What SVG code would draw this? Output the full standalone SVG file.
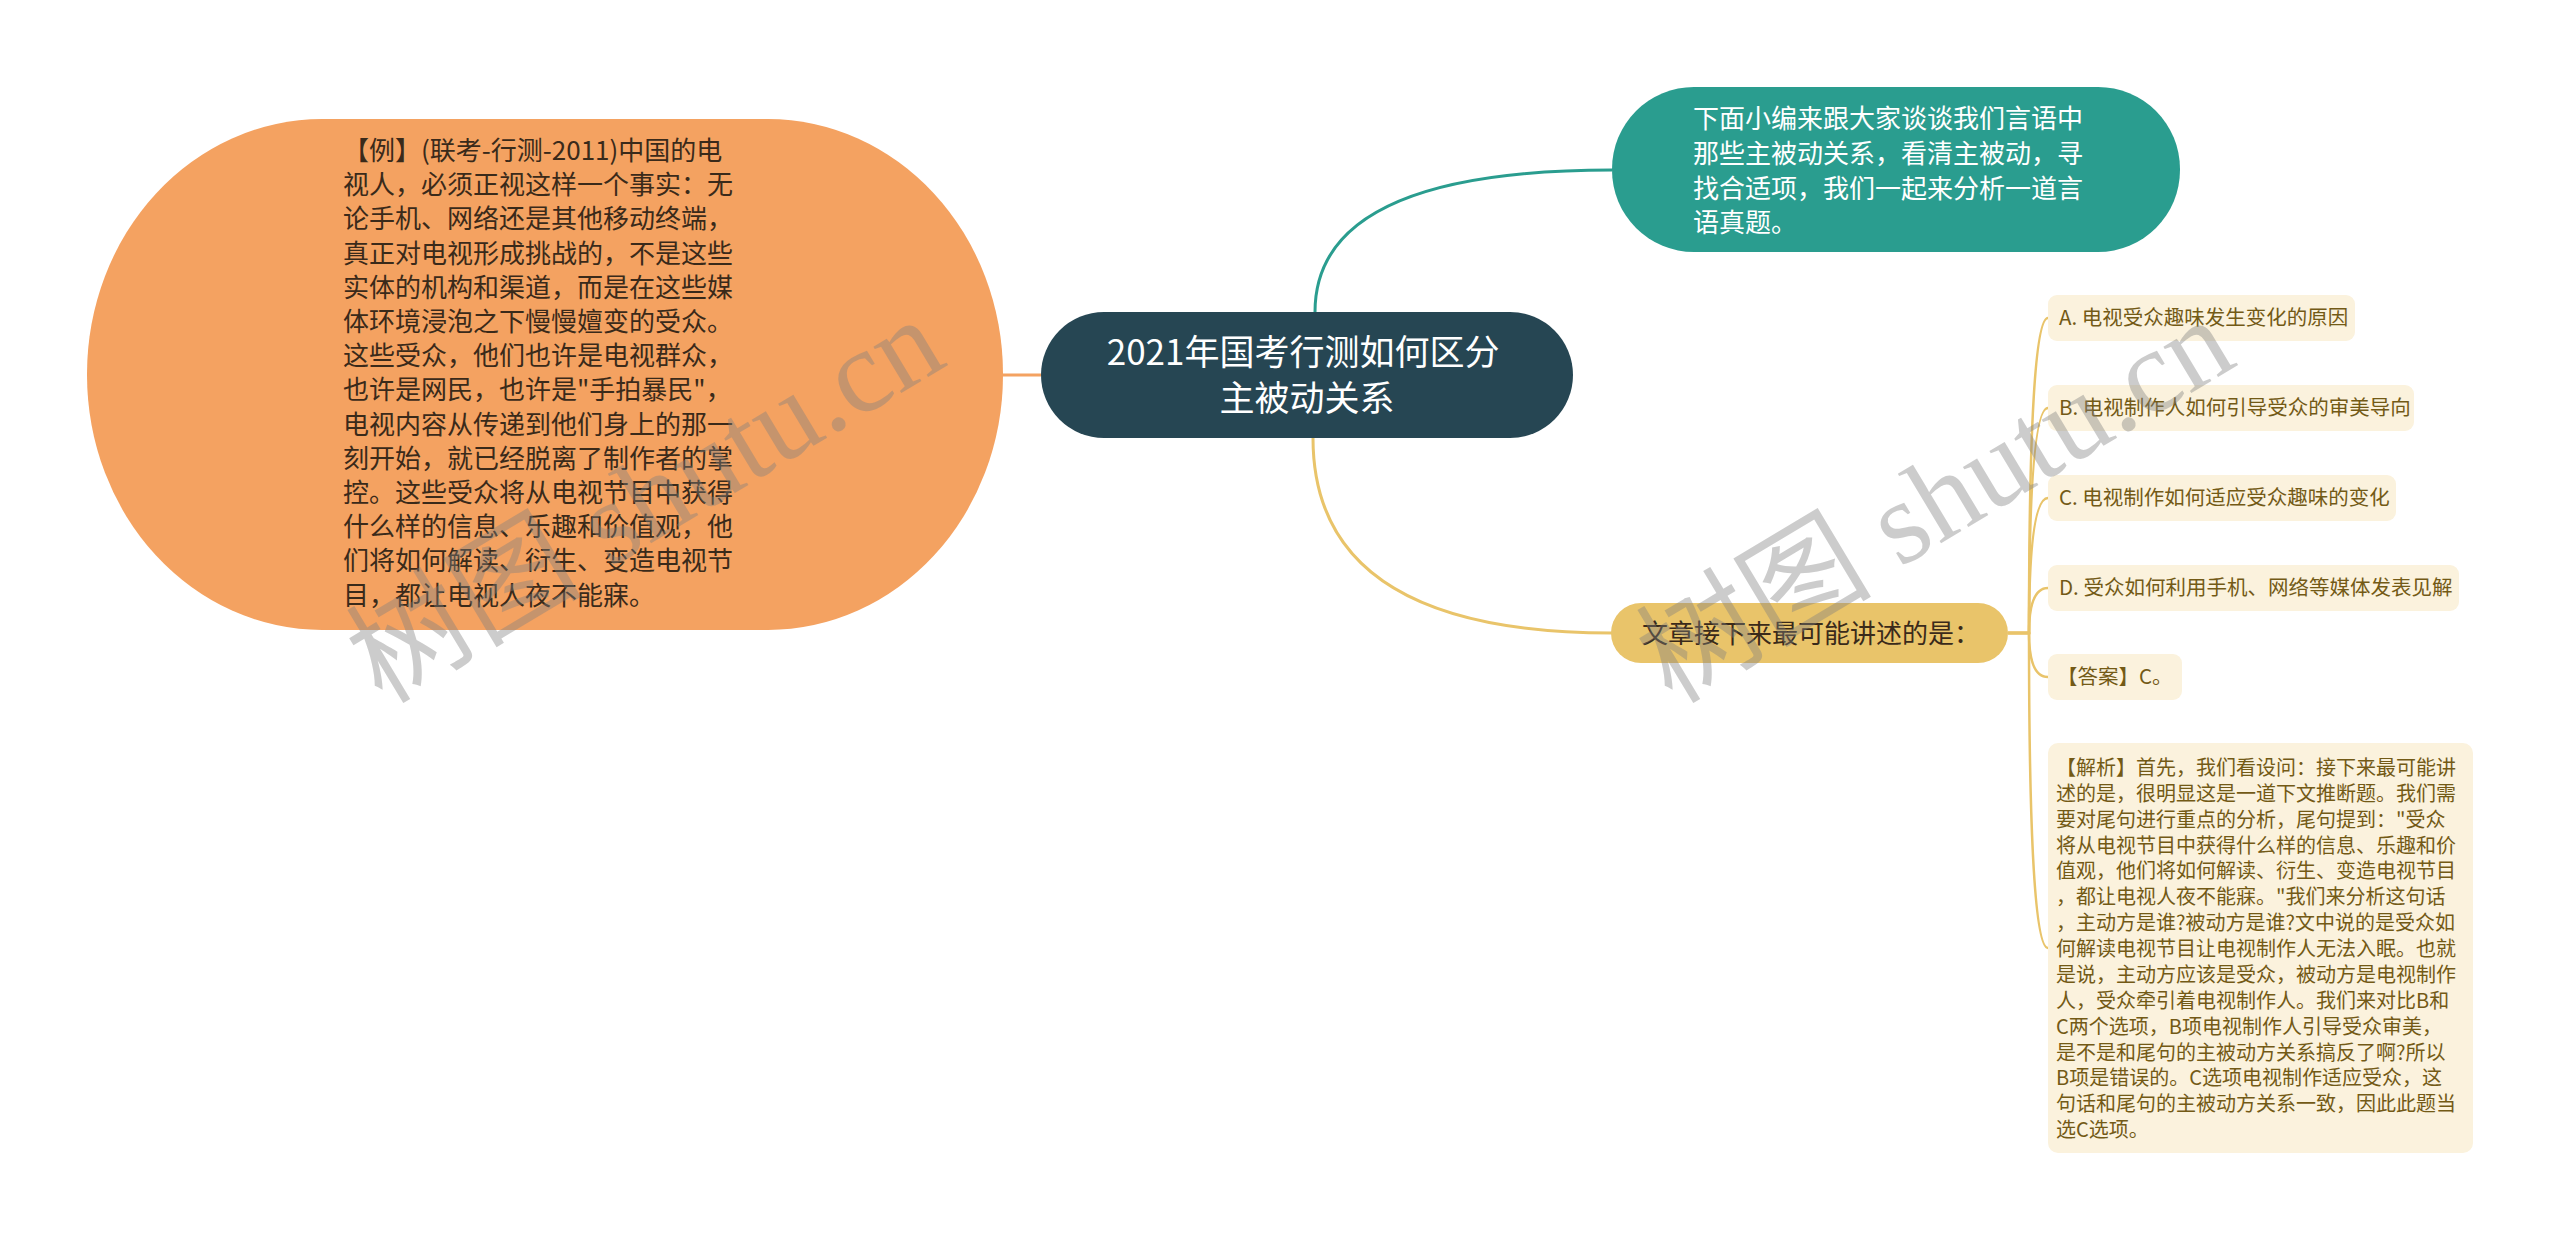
<svg xmlns="http://www.w3.org/2000/svg" width="2560" height="1241" viewBox="0 0 2560 1241">
<style>
  .t { font-family: "Noto Sans CJK SC", "Liberation Sans", sans-serif; }
  .dark { fill: #3a2a1a; }
  .white { fill: #ffffff; }
  .leafbox { fill: #fbf2dd; }
  .leaftxt { fill: #735a16; font-size: 20.5px; }
  .ana { fill: #735a16; font-size: 20px; }
  .c-y { fill: none; stroke: #e9c46a; stroke-width: 3; }
  .c-l { fill: none; stroke: #e9c46a; stroke-width: 2.5; }
  .wm { font-family: "Liberation Serif", "Noto Sans CJK SC", serif; font-size: 118px; fill: #808080; fill-opacity: 0.4; }
</style>
<rect width="2560" height="1241" fill="#ffffff"/>

<g id="connectors">
  <path d="M1003,375 L1041,375" fill="none" stroke="#f4a261" stroke-width="3"/>
  <path d="M1315,312 Q1315,170 1612,170" fill="none" stroke="#2a9d8f" stroke-width="3"/>
  <path d="M1313,438 Q1313,633 1612,633" class="c-y"/>
  <path d="M2008,633 L2029,633 Q2029,318 2048,318" class="c-l"/>
  <path d="M2008,633 L2029,633 Q2029,408 2048,408" class="c-l"/>
  <path d="M2008,633 L2029,633 Q2029,498 2048,498" class="c-l"/>
  <path d="M2008,633 L2029,633 Q2029,588 2048,588" class="c-l"/>
  <path d="M2008,633 L2029,633 Q2029,677 2048,677" class="c-l"/>
  <path d="M2008,633 L2029,633 Q2029,948 2048,948" class="c-l"/>
</g>

<g id="node-example">
  <rect x="87" y="119" width="916" height="511" rx="235" ry="255" fill="#f4a261"/>
  <text class="t dark" font-size="26">
    <tspan x="343" y="160">【例】(联考-行测-2011)中国的电</tspan>
    <tspan x="343" y="194.2">视人，必须正视这样一个事实：无</tspan>
    <tspan x="343" y="228.4">论手机、网络还是其他移动终端，</tspan>
    <tspan x="343" y="262.6">真正对电视形成挑战的，不是这些</tspan>
    <tspan x="343" y="296.8">实体的机构和渠道，而是在这些媒</tspan>
    <tspan x="343" y="331">体环境浸泡之下慢慢嬗变的受众。</tspan>
    <tspan x="343" y="365.2">这些受众，他们也许是电视群众，</tspan>
    <tspan x="343" y="399.4">也许是网民，也许是"手拍暴民"，</tspan>
    <tspan x="343" y="433.6">电视内容从传递到他们身上的那一</tspan>
    <tspan x="343" y="467.8">刻开始，就已经脱离了制作者的掌</tspan>
    <tspan x="343" y="502">控。这些受众将从电视节目中获得</tspan>
    <tspan x="343" y="536.2">什么样的信息、乐趣和价值观，他</tspan>
    <tspan x="343" y="570.4">们将如何解读、衍生、变造电视节</tspan>
    <tspan x="343" y="604.6">目，都让电视人夜不能寐。</tspan>
  </text>
</g>

<g id="node-root">
  <rect x="1041" y="312" width="532" height="126" rx="63" fill="#264653"/>
  <text class="t white" font-size="35" text-anchor="middle">
    <tspan x="1307" y="365">2021年国考行测如何区分</tspan>
    <tspan x="1307" y="411">主被动关系</tspan>
  </text>
</g>

<g id="node-intro">
  <rect x="1612" y="87" width="568" height="165" rx="82" fill="#2a9d8f"/>
  <text class="t white" font-size="26">
    <tspan x="1693" y="128">下面小编来跟大家谈谈我们言语中</tspan>
    <tspan x="1693" y="163">那些主被动关系，看清主被动，寻</tspan>
    <tspan x="1693" y="198">找合适项，我们一起来分析一道言</tspan>
    <tspan x="1693" y="232">语真题。</tspan>
  </text>
</g>

<g id="node-question">
  <rect x="1611" y="603" width="397" height="60" rx="30" fill="#e9c46a"/>
  <text class="t dark" font-size="26" x="1642" y="643">文章接下来最可能讲述的是：</text>
</g>

<g id="node-a">
  <rect class="leafbox" x="2048" y="295" width="307" height="46" rx="9"/>
  <text class="t leaftxt" x="2059" y="325">A. 电视受众趣味发生变化的原因</text>
</g>
<g id="node-b">
  <rect class="leafbox" x="2048" y="385" width="366" height="46" rx="9"/>
  <text class="t leaftxt" x="2059" y="415">B. 电视制作人如何引导受众的审美导向</text>
</g>
<g id="node-c">
  <rect class="leafbox" x="2048" y="475" width="348" height="46" rx="9"/>
  <text class="t leaftxt" x="2059" y="505">C. 电视制作如何适应受众趣味的变化</text>
</g>
<g id="node-d">
  <rect class="leafbox" x="2048" y="565" width="411" height="46" rx="9"/>
  <text class="t leaftxt" x="2059" y="595">D. 受众如何利用手机、网络等媒体发表见解</text>
</g>
<g id="node-answer">
  <rect class="leafbox" x="2048" y="654" width="134" height="46" rx="9"/>
  <text class="t leaftxt" x="2057" y="684">【答案】C。</text>
</g>
<g id="node-analysis">
  <rect class="leafbox" x="2048" y="743" width="425" height="410" rx="10"/>
  <text class="t ana">
    <tspan x="2056" y="775">【解析】首先，我们看设问：接下来最可能讲</tspan>
    <tspan x="2056" y="800.9">述的是，很明显这是一道下文推断题。我们需</tspan>
    <tspan x="2056" y="826.7">要对尾句进行重点的分析，尾句提到："受众</tspan>
    <tspan x="2056" y="852.6">将从电视节目中获得什么样的信息、乐趣和价</tspan>
    <tspan x="2056" y="878.4">值观，他们将如何解读、衍生、变造电视节目</tspan>
    <tspan x="2056" y="904.3">，都让电视人夜不能寐。"我们来分析这句话</tspan>
    <tspan x="2056" y="930.2">，主动方是谁?被动方是谁?文中说的是受众如</tspan>
    <tspan x="2056" y="956">何解读电视节目让电视制作人无法入眠。也就</tspan>
    <tspan x="2056" y="981.9">是说，主动方应该是受众，被动方是电视制作</tspan>
    <tspan x="2056" y="1007.7">人，受众牵引着电视制作人。我们来对比B和</tspan>
    <tspan x="2056" y="1033.6">C两个选项，B项电视制作人引导受众审美，</tspan>
    <tspan x="2056" y="1059.5">是不是和尾句的主被动方关系搞反了啊?所以</tspan>
    <tspan x="2056" y="1085.3">B项是错误的。C选项电视制作适应受众，这</tspan>
    <tspan x="2056" y="1111.2">句话和尾句的主被动方关系一致，因此此题当</tspan>
    <tspan x="2056" y="1137">选C选项。</tspan>
  </text>
</g>

<g id="watermarks">
  <text class="wm" transform="translate(382,705) rotate(-31)">树图 shutu.cn</text>
  <text class="wm" transform="translate(1672,705) rotate(-31)">树图 shutu.cn</text>
</g>
</svg>
